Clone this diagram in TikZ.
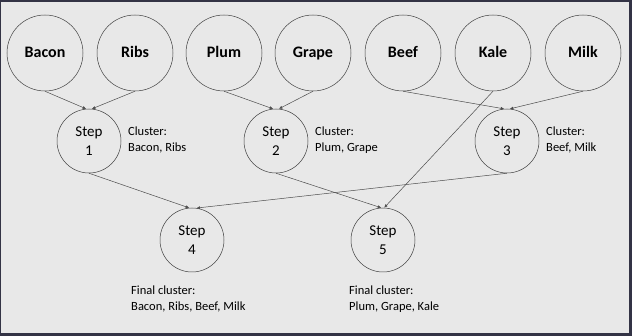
\documentclass[tikz,border=0pt]{standalone}
\usepackage{fontspec}
\setmainfont{Carlito}
\usetikzlibrary{arrows.meta, positioning}

\begin{document}
\begin{tikzpicture}[x=1pt, y=-1pt,
    item/.style={circle, draw=black!75, line width=0.5pt, minimum size=76pt, inner sep=0pt, text height=11pt, text depth=2pt, font=\fontsize{16}{18}\selectfont\bfseries},
    stepnode/.style={circle, draw=black!75, line width=0.5pt, minimum size=64pt, inner sep=0pt, align=center, font=\fontsize{15}{19}\selectfont},
    note/.style={align=left, anchor=north west, inner sep=0pt, font=\fontsize{12.5}{15.5}\selectfont},
    arrow/.style={-{Latex[length=3.5pt, width=3pt]}, line width=0.5pt, draw=black!70}
]

% ==== Frame ====
\fill[black!88!blue!60!gray] (0,0) rectangle (632,336);
\fill[black!9] (1,2) rectangle (629,333);
\useasboundingbox (0,0) rectangle (632,336);

% ==== Items ====
\node[item] (bacon) at (45,53) {Bacon};
\node[item] (ribs)  at (135,53) {Ribs};
\node[item] (plum)  at (224,53) {Plum};
\node[item] (grape) at (313,53) {Grape};
\node[item] (beef)  at (403,53) {Beef};
\node[item] (kale)  at (493,53) {Kale};
\node[item] (milk)  at (583,53) {Milk};

% ==== Merge steps ====
\node[stepnode] (step1) at (89,141) {Step\\1};
\node[stepnode] (step2) at (276,141) {Step\\2};
\node[stepnode] (step3) at (507,141) {Step\\3};
\node[stepnode] (step4) at (192,240) {Step\\4};
\node[stepnode] (step5) at (383,240) {Step\\5};

% ==== Cluster notes ====
\node[note] (note1) at (128,127) {Cluster:\\Bacon, Ribs};
\node[note] (note2) at (315,127) {Cluster:\\Plum, Grape};
\node[note] (note3) at (546,127) {Cluster:\\Beef, Milk};
\node[note] (final4) at (131,286) {Final cluster:\\Bacon, Ribs, Beef, Milk};
\node[note] (final5) at (349,286) {Final cluster:\\Plum, Grape, Kale};

% ==== Arrows ====
\draw[arrow] (bacon.south) -- (step1.95);
\draw[arrow] (ribs.south) -- (step1.85);
\draw[arrow] (plum.south) -- (step2.95);
\draw[arrow] (grape.south) -- (step2.85);
\draw[arrow] (beef.south) -- (step3.95);
\draw[arrow] (milk.south) -- (step3.85);
\draw[arrow] (step1.south) -- (step4.95);
\draw[arrow] (step3.south) -- (step4.82);
\draw[arrow] (step2.south) -- (step5.93);
\draw[arrow] (kale.south) -- (step5.88);

\end{tikzpicture}
\end{document}
